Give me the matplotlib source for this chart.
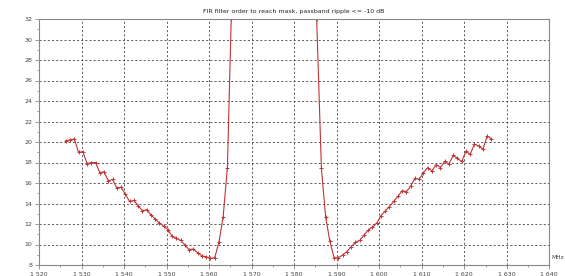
import matplotlib
matplotlib.use("Agg")
import matplotlib.pyplot as plt
from matplotlib.ticker import MultipleLocator, FuncFormatter

title = "FIR filter order to reach mask, passband ripple <= -10 dB"
x_unit = "MHz"

freq_low = [1526.3, 1527.3, 1528.3, 1529.3, 1530.3, 1531.3, 1532.3, 1533.3, 1534.3, 1535.3,
            1536.3, 1537.3, 1538.3, 1539.3, 1540.3, 1541.3, 1542.3, 1543.3, 1544.3, 1545.3,
            1546.3, 1547.3, 1548.3, 1549.3, 1550.3, 1551.3, 1552.3, 1553.3, 1554.3, 1555.3,
            1556.3, 1557.3, 1558.3, 1559.3, 1560.3, 1561.3, 1562.3, 1563.3, 1564.3, 1565.2]
order_low = [20.13, 20.2, 20.3, 19.0, 19.06, 17.9, 18.0, 18.0, 17.0, 17.1,
             16.2, 16.36, 15.5, 15.6, 14.9, 14.2, 14.3, 13.8, 13.3, 13.4,
             12.9, 12.5, 12.1, 11.8, 11.45, 10.8, 10.6, 10.4, 9.95, 9.5,
             9.56, 9.2, 8.9, 8.8, 8.65, 8.7, 10.2, 12.7, 17.5, 32.0]

freq_high = [1585.3, 1586.4, 1587.4, 1588.4, 1589.4, 1590.4, 1591.4, 1592.4, 1593.4, 1594.4,
             1595.4, 1596.4, 1597.4, 1598.4, 1599.4, 1600.4, 1601.4, 1602.4, 1603.4, 1604.4,
             1605.4, 1606.4, 1607.4, 1608.4, 1609.4, 1610.4, 1611.4, 1612.4, 1613.4, 1614.4,
             1615.4, 1616.4, 1617.4, 1618.4, 1619.4, 1620.4, 1621.4, 1622.4, 1623.4, 1624.4,
             1625.4, 1626.4]
order_high = [32.0, 17.5, 12.7, 10.3, 8.7, 8.7, 8.98, 9.3, 9.8, 10.2,
              10.4, 10.9, 11.4, 11.7, 12.07, 12.8, 13.27, 13.7, 14.2, 14.7,
              15.25, 15.15, 15.7, 16.45, 16.36, 17.0, 17.5, 17.17, 17.8, 17.5,
              18.1, 17.85, 18.7, 18.4, 18.1, 19.1, 18.8, 19.8, 19.6, 19.3,
              20.6, 20.3]

fig = plt.figure(figsize=(5.65, 2.76), dpi=100)
ax = fig.add_axes([39/565, 1 - 265/276, (549.3-39)/565, (265-19)/276])

color = "#c03535"
for fx, fy in ((freq_low, order_low), (freq_high, order_high)):
    ax.plot(fx, fy, color=color, lw=0.8, marker="+", ms=3.5, mew=0.7, clip_on=True)

ax.set_xlim(1520, 1640)
ax.set_ylim(8, 32)
ax.xaxis.set_major_locator(MultipleLocator(10))
ax.xaxis.set_minor_locator(MultipleLocator(5))
ax.yaxis.set_major_locator(MultipleLocator(2))
ax.yaxis.set_minor_locator(MultipleLocator(1))
ax.xaxis.set_major_formatter(FuncFormatter(lambda v, p: f"{int(v)//1000} {int(v)%1000:03d}"))
ax.yaxis.set_major_formatter(FuncFormatter(lambda v, p: f"{int(v)}"))

ax.grid(True, which="major", ls=(0, (2.5, 2.5)), color="#444444", lw=0.6)
for s in ax.spines.values():
    s.set_color("#888888")
    s.set_linewidth(0.8)
ax.tick_params(which="both", direction="out", colors="#888888", labelcolor="#444444",
               labelsize=4.5, width=0.6)
ax.tick_params(which="major", length=3, pad=2)
ax.tick_params(which="minor", length=1.5)

ax.set_title(title, fontsize=4.5, color="#222222", pad=4)
ax.text(1.004, 0.03, x_unit, transform=ax.transAxes, fontsize=4.2, color="#444444",
        ha="left", va="center")

fig.savefig("out.png", dpi=100)
